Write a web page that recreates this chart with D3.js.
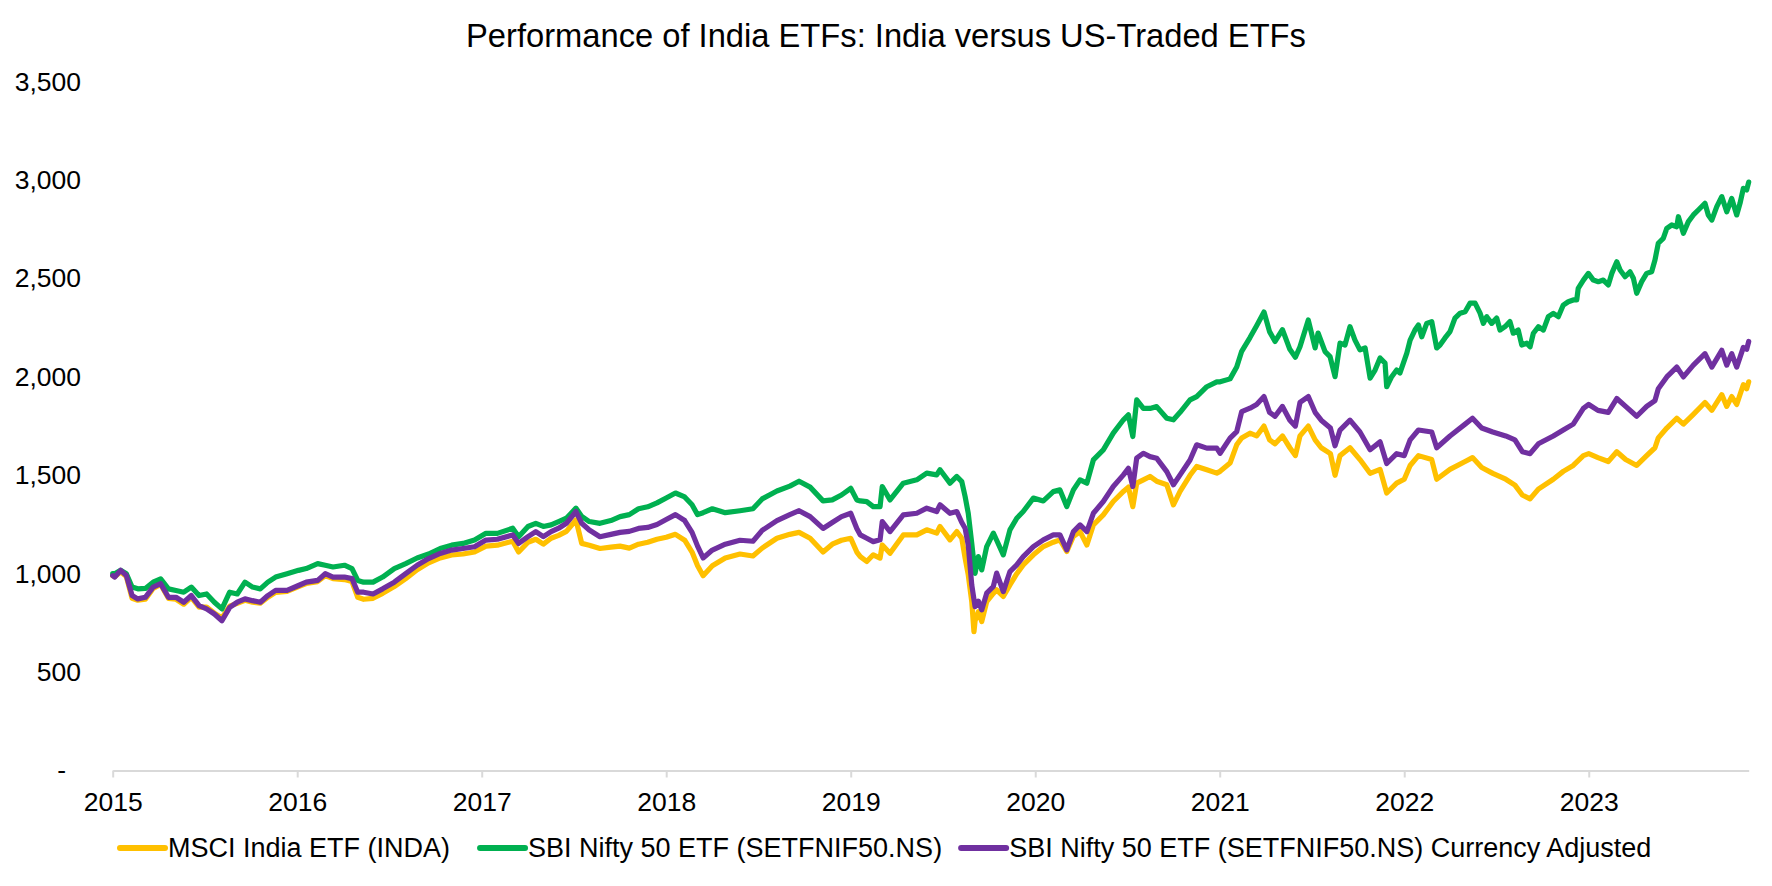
<!DOCTYPE html>
<html>
<head>
<meta charset="utf-8">
<script src="https://cdn.jsdelivr.net/npm/d3@7/dist/d3.min.js"></script>
<style>
  body { margin: 0; background: #ffffff; }
  svg { display: block; }
  text { font-family: "Liberation Sans", Arial, sans-serif; fill: #000000; }
</style>
</head>
<body>
<svg id="chart" width="1772" height="886"></svg>
<script>
// ---------------- DATA ----------------
const chartTitle = "Performance of India ETFs: India versus US-Traded ETFs";
const seriesNames = [
  "MSCI India ETF (INDA)",
  "SBI Nifty 50 ETF (SETFNIF50.NS)",
  "SBI Nifty 50 ETF (SETFNIF50.NS) Currency Adjusted"
];
const seriesColors = ["#FFC000", "#00B050", "#7030A0"];
const yTickValues = [0, 500, 1000, 1500, 2000, 2500, 3000, 3500];
const xTickYears = [2015, 2016, 2017, 2018, 2019, 2020, 2021, 2022, 2023];
const xDomainYears = [2015, 2023.867];

// [decimal year, value]
const indaData = [
[2015.000,990],[2015.011,985],[2015.043,1010],[2015.074,985],[2015.105,875],[2015.136,865],[2015.177,870],
[2015.219,925],[2015.260,945],[2015.302,875],[2015.343,870],[2015.385,845],[2015.426,880],[2015.468,830],
[2015.509,830],[2015.551,800],[2015.592,775],[2015.634,835],[2015.675,850],[2015.717,865],[2015.758,855],
[2015.800,850],[2015.841,880],[2015.883,905],[2015.945,910],[2016.007,935],[2016.049,950],[2016.111,960],
[2016.152,990],[2016.194,975],[2016.256,970],[2016.297,960],[2016.328,880],[2016.360,870],[2016.411,875],
[2016.463,900],[2016.526,935],[2016.588,975],[2016.650,1020],[2016.712,1055],[2016.775,1080],[2016.837,1095],
[2016.899,1100],[2016.961,1110],[2017.023,1140],[2017.085,1145],[2017.168,1165],[2017.200,1110],[2017.251,1160],
[2017.293,1175],[2017.334,1150],[2017.376,1180],[2017.417,1195],[2017.459,1215],[2017.511,1273],[2017.542,1154],
[2017.583,1145],[2017.641,1128],[2017.700,1135],[2017.750,1140],[2017.800,1130],[2017.850,1150],[2017.900,1160],
[2017.950,1175],[2018.000,1185],[2018.050,1200],[2018.100,1170],[2018.140,1110],[2018.170,1040],[2018.200,990],
[2018.250,1040],[2018.320,1080],[2018.400,1100],[2018.470,1090],[2018.520,1130],[2018.600,1180],[2018.670,1200],
[2018.720,1210],[2018.780,1180],[2018.850,1110],[2018.900,1150],[2018.950,1170],[2019.000,1180],[2019.033,1110],
[2019.052,1087],[2019.087,1062],[2019.122,1096],[2019.159,1079],[2019.171,1146],[2019.213,1104],[2019.285,1197],
[2019.358,1197],[2019.412,1223],[2019.466,1206],[2019.484,1240],[2019.538,1172],[2019.575,1214],[2019.602,1180],
[2019.620,1079],[2019.637,994],[2019.656,858],[2019.668,705],[2019.674,760],[2019.692,807],[2019.710,757],
[2019.737,858],[2019.773,900],[2019.791,918],[2019.827,884],[2019.863,943],[2019.900,1000],[2019.935,1045],
[2019.990,1096],[2020.044,1138],[2020.098,1160],[2020.134,1172],[2020.171,1113],[2020.207,1190],[2020.243,1214],
[2020.280,1146],[2020.315,1248],[2020.369,1299],[2020.423,1367],[2020.478,1418],[2020.505,1440],[2020.529,1341],
[2020.550,1460],[2020.586,1477],[2020.622,1494],[2020.658,1470],[2020.713,1452],[2020.749,1350],[2020.785,1418],
[2020.839,1500],[2020.875,1545],[2020.930,1528],[2020.984,1511],[2021.002,1520],[2021.056,1562],[2021.092,1655],
[2021.119,1690],[2021.164,1714],[2021.200,1700],[2021.240,1750],[2021.270,1680],[2021.300,1660],[2021.340,1700],
[2021.380,1640],[2021.410,1600],[2021.435,1700],[2021.480,1750],[2021.517,1680],[2021.550,1640],[2021.600,1610],
[2021.625,1500],[2021.652,1600],[2021.706,1640],[2021.760,1580],[2021.815,1510],[2021.869,1530],[2021.905,1410],
[2021.959,1460],[2022.000,1480],[2022.032,1550],[2022.077,1600],[2022.149,1580],[2022.176,1480],[2022.248,1530],
[2022.330,1570],[2022.370,1590],[2022.420,1540],[2022.480,1510],[2022.550,1480],[2022.600,1450],[2022.640,1400],
[2022.682,1380],[2022.727,1430],[2022.808,1480],[2022.862,1520],[2022.916,1550],[2022.971,1600],[2023.000,1610],
[2023.050,1590],[2023.106,1570],[2023.152,1620],[2023.200,1580],[2023.260,1550],[2023.314,1600],[2023.359,1640],
[2023.377,1690],[2023.423,1740],[2023.477,1790],[2023.513,1760],[2023.567,1810],[2023.630,1870],[2023.667,1830],
[2023.721,1910],[2023.748,1850],[2023.775,1900],[2023.802,1860],[2023.838,1960],[2023.856,1940],[2023.867,1975]
];

const sbiData = [
[2015.000,1000],[2015.011,1000],[2015.043,1017],[2015.074,1000],[2015.105,932],[2015.136,923],[2015.177,925],
[2015.219,957],[2015.260,974],[2015.302,923],[2015.343,915],[2015.385,906],[2015.426,932],[2015.468,889],
[2015.509,897],[2015.551,855],[2015.592,821],[2015.634,906],[2015.675,897],[2015.717,957],[2015.758,932],
[2015.800,923],[2015.841,957],[2015.883,983],[2015.945,1000],[2016.007,1017],[2016.049,1026],[2016.111,1051],
[2016.152,1043],[2016.194,1034],[2016.256,1043],[2016.297,1026],[2016.328,966],[2016.360,957],[2016.411,957],
[2016.463,983],[2016.526,1026],[2016.588,1051],[2016.650,1080],[2016.712,1100],[2016.775,1128],[2016.837,1145],
[2016.899,1154],[2016.961,1171],[2017.023,1205],[2017.085,1205],[2017.168,1231],[2017.200,1188],[2017.251,1240],
[2017.293,1256],[2017.334,1240],[2017.376,1248],[2017.417,1265],[2017.459,1282],[2017.511,1333],[2017.542,1291],
[2017.583,1265],[2017.641,1256],[2017.700,1270],[2017.750,1290],[2017.800,1300],[2017.850,1330],[2017.900,1340],
[2017.950,1360],[2018.000,1385],[2018.050,1410],[2018.100,1390],[2018.140,1350],[2018.170,1300],[2018.200,1310],
[2018.250,1330],[2018.320,1310],[2018.400,1320],[2018.470,1330],[2018.520,1380],[2018.600,1420],[2018.670,1445],
[2018.720,1470],[2018.780,1440],[2018.850,1370],[2018.900,1375],[2018.950,1400],[2019.000,1434],[2019.033,1375],
[2019.052,1370],[2019.087,1366],[2019.122,1341],[2019.159,1341],[2019.171,1443],[2019.213,1375],[2019.285,1460],
[2019.358,1477],[2019.412,1511],[2019.466,1502],[2019.484,1528],[2019.538,1460],[2019.575,1494],[2019.602,1468],
[2019.620,1392],[2019.637,1307],[2019.656,1155],[2019.668,1050],[2019.674,1002],[2019.692,1087],[2019.710,1019],
[2019.737,1138],[2019.773,1206],[2019.791,1170],[2019.827,1096],[2019.863,1223],[2019.900,1282],[2019.935,1316],
[2019.990,1384],[2020.044,1370],[2020.098,1417],[2020.134,1426],[2020.171,1341],[2020.207,1426],[2020.243,1477],
[2020.280,1460],[2020.315,1578],[2020.369,1629],[2020.423,1714],[2020.478,1782],[2020.505,1807],[2020.529,1697],
[2020.550,1883],[2020.586,1840],[2020.622,1840],[2020.658,1849],[2020.713,1790],[2020.749,1782],[2020.785,1820],
[2020.839,1883],[2020.875,1900],[2020.930,1950],[2020.984,1975],[2021.002,1975],[2021.056,1990],[2021.092,2050],
[2021.119,2130],[2021.164,2200],[2021.200,2260],[2021.240,2330],[2021.270,2230],[2021.300,2180],[2021.340,2240],
[2021.380,2140],[2021.410,2100],[2021.435,2153],[2021.480,2289],[2021.517,2147],[2021.533,2223],[2021.571,2128],
[2021.598,2103],[2021.625,2001],[2021.652,2172],[2021.679,2162],[2021.706,2255],[2021.733,2187],[2021.760,2137],
[2021.788,2147],[2021.815,1994],[2021.842,2035],[2021.869,2096],[2021.896,2070],[2021.905,1950],[2021.932,2001],
[2021.959,2035],[2021.977,2020],[2022.014,2121],[2022.032,2187],[2022.058,2238],[2022.077,2264],[2022.095,2204],
[2022.122,2272],[2022.149,2281],[2022.176,2147],[2022.194,2162],[2022.221,2198],[2022.248,2230],[2022.275,2299],
[2022.303,2324],[2022.330,2331],[2022.357,2375],[2022.384,2375],[2022.411,2324],[2022.429,2272],[2022.447,2306],
[2022.474,2272],[2022.501,2299],[2022.519,2238],[2022.546,2255],[2022.573,2281],[2022.591,2222],[2022.618,2238],
[2022.637,2162],[2022.664,2171],[2022.682,2153],[2022.700,2222],[2022.727,2255],[2022.754,2238],[2022.781,2306],
[2022.808,2323],[2022.835,2306],[2022.862,2365],[2022.889,2382],[2022.916,2391],[2022.935,2391],[2022.943,2450],
[2022.971,2492],[2022.998,2526],[2023.025,2492],[2023.052,2484],[2023.079,2492],[2023.106,2467],[2023.125,2526],
[2023.152,2585],[2023.170,2543],[2023.197,2509],[2023.224,2534],[2023.242,2501],[2023.260,2425],[2023.287,2484],
[2023.314,2526],[2023.341,2534],[2023.359,2594],[2023.377,2679],[2023.404,2704],[2023.423,2755],[2023.450,2772],
[2023.477,2763],[2023.486,2814],[2023.513,2730],[2023.540,2789],[2023.567,2823],[2023.594,2848],[2023.630,2882],
[2023.648,2823],[2023.667,2797],[2023.694,2865],[2023.721,2916],[2023.748,2839],[2023.775,2907],[2023.802,2823],
[2023.820,2882],[2023.838,2958],[2023.856,2950],[2023.867,2990]
];

const sbiUsdData = [
[2015.000,990],[2015.011,983],[2015.043,1017],[2015.074,991],[2015.105,889],[2015.136,872],[2015.177,880],
[2015.219,932],[2015.260,949],[2015.302,880],[2015.343,880],[2015.385,855],[2015.426,889],[2015.468,838],
[2015.509,821],[2015.551,795],[2015.592,761],[2015.634,829],[2015.675,855],[2015.717,872],[2015.758,863],
[2015.800,855],[2015.841,889],[2015.883,915],[2015.945,915],[2016.007,940],[2016.049,957],[2016.111,966],
[2016.152,1000],[2016.194,983],[2016.256,983],[2016.297,975],[2016.328,906],[2016.360,906],[2016.411,897],
[2016.463,923],[2016.526,957],[2016.588,1000],[2016.650,1043],[2016.712,1077],[2016.775,1103],[2016.837,1120],
[2016.899,1128],[2016.961,1137],[2017.023,1171],[2017.085,1175],[2017.168,1197],[2017.200,1154],[2017.251,1188],
[2017.293,1214],[2017.334,1188],[2017.376,1214],[2017.417,1231],[2017.459,1256],[2017.511,1316],[2017.542,1256],
[2017.583,1222],[2017.641,1188],[2017.700,1200],[2017.750,1210],[2017.800,1215],[2017.850,1230],[2017.900,1235],
[2017.950,1250],[2018.000,1275],[2018.050,1300],[2018.100,1270],[2018.140,1210],[2018.170,1140],[2018.200,1080],
[2018.250,1120],[2018.320,1150],[2018.400,1170],[2018.470,1165],[2018.520,1220],[2018.600,1270],[2018.670,1300],
[2018.720,1320],[2018.780,1290],[2018.850,1230],[2018.900,1260],[2018.950,1290],[2019.000,1307],[2019.033,1230],
[2019.052,1197],[2019.087,1180],[2019.122,1163],[2019.159,1172],[2019.171,1265],[2019.213,1214],[2019.285,1299],
[2019.358,1307],[2019.412,1333],[2019.466,1316],[2019.484,1350],[2019.538,1307],[2019.575,1316],[2019.602,1260],
[2019.620,1231],[2019.637,1146],[2019.656,943],[2019.668,870],[2019.674,833],[2019.692,860],[2019.710,816],
[2019.737,901],[2019.773,935],[2019.791,1003],[2019.827,909],[2019.863,1011],[2019.900,1045],[2019.935,1087],
[2019.990,1138],[2020.044,1172],[2020.098,1197],[2020.134,1197],[2020.171,1121],[2020.207,1214],[2020.243,1248],
[2020.280,1214],[2020.315,1307],[2020.369,1367],[2020.423,1443],[2020.478,1502],[2020.505,1536],[2020.529,1443],
[2020.550,1587],[2020.586,1612],[2020.622,1595],[2020.658,1587],[2020.713,1519],[2020.749,1452],[2020.785,1502],
[2020.839,1578],[2020.875,1655],[2020.930,1638],[2020.984,1638],[2021.002,1612],[2021.056,1689],[2021.092,1722],
[2021.119,1824],[2021.164,1841],[2021.200,1860],[2021.240,1900],[2021.270,1820],[2021.300,1800],[2021.340,1850],
[2021.380,1780],[2021.410,1750],[2021.435,1870],[2021.480,1900],[2021.517,1820],[2021.550,1780],[2021.600,1740],
[2021.625,1650],[2021.652,1730],[2021.706,1780],[2021.760,1720],[2021.815,1630],[2021.869,1670],[2021.905,1560],
[2021.959,1610],[2022.000,1600],[2022.032,1680],[2022.077,1730],[2022.149,1720],[2022.176,1640],[2022.248,1700],
[2022.330,1760],[2022.370,1790],[2022.420,1740],[2022.480,1720],[2022.550,1700],[2022.600,1680],[2022.640,1620],
[2022.682,1610],[2022.727,1660],[2022.808,1700],[2022.862,1730],[2022.916,1760],[2022.971,1840],[2023.000,1860],
[2023.050,1830],[2023.106,1820],[2023.152,1890],[2023.200,1850],[2023.260,1800],[2023.314,1850],[2023.359,1880],
[2023.377,1940],[2023.423,2000],[2023.477,2050],[2023.513,2000],[2023.567,2060],[2023.630,2118],[2023.667,2050],
[2023.721,2135],[2023.748,2060],[2023.775,2118],[2023.802,2050],[2023.838,2150],[2023.856,2140],[2023.867,2180]
];

const allSeries = [indaData, sbiData, sbiUsdData];

// ---------------- LAYOUT ----------------
const W = 1772, H = 886;
const plot = { left: 112.7, right: 1748.7, top: 81.7, bottom: 770.5 };

const svg = d3.select("#chart");

const x = d3.scaleLinear().domain(xDomainYears).range([plot.left, plot.right]);
const y = d3.scaleLinear().domain([0, 3500]).range([plot.bottom, plot.top]);

// Title
svg.append("text")
  .attr("x", W / 2)
  .attr("y", 47)
  .attr("text-anchor", "middle")
  .style("font-size", "32.7px")
  .text(chartTitle);

// Y axis (labels only)
const fmt = d3.format(",");
const yAxis = svg.append("g")
  .attr("transform", `translate(${plot.left},0)`)
  .call(d3.axisLeft(y).tickValues(yTickValues).tickSize(0).tickPadding(31.7)
    .tickFormat(d => d === 0 ? "-" : fmt(d)));
yAxis.select(".domain").remove();
yAxis.selectAll("text")
  .style("font-size", "26.5px")
  .style("font-family", '"Liberation Sans", Arial, sans-serif')
  .attr("fill", "#000")
  .attr("dx", d => d === 0 ? -15 : 0);

// X axis
const xAxis = svg.append("g")
  .attr("transform", `translate(0,${plot.bottom})`)
  .call(d3.axisBottom(x).tickValues(xTickYears).tickFormat(d3.format("d"))
    .tickSize(7).tickSizeOuter(0).tickPadding(15));
xAxis.select(".domain").attr("stroke", "#d9d9d9").attr("stroke-width", 2);
xAxis.selectAll(".tick line").attr("stroke", "#d9d9d9").attr("stroke-width", 2);
xAxis.selectAll("text")
  .style("font-size", "26.5px")
  .style("font-family", '"Liberation Sans", Arial, sans-serif')
  .attr("fill", "#000");

// Lines
const line = d3.line().x(d => x(d[0])).y(d => y(d[1]));
svg.append("g").selectAll("path")
  .data(allSeries)
  .join("path")
  .attr("d", line)
  .attr("fill", "none")
  .attr("stroke", (d, i) => seriesColors[i])
  .attr("stroke-width", 5.2)
  .attr("stroke-linejoin", "round")
  .attr("stroke-linecap", "round");

// Legend
const legendY = 848;
const lineLen = 45, textGap = 3;
const itemGaps = [30, 19];
const legendStart = 120;
const legend = svg.append("g");
const items = legend.selectAll("g").data(seriesNames).join("g");
items.append("line")
  .attr("x1", 0).attr("x2", lineLen)
  .attr("y1", 0).attr("y2", 0)
  .attr("stroke", (d, i) => seriesColors[i])
  .attr("stroke-width", 6)
  .attr("stroke-linecap", "round");
items.append("text")
  .attr("x", lineLen + textGap)
  .attr("y", 0)
  .attr("dy", "0.35em")
  .style("font-size", "27px")
  .text(d => d);
const widths = [];
items.each(function () { widths.push(this.getBBox().width); });
let cx = legendStart;
items.attr("transform", (d, i) => {
  const t = `translate(${cx},${legendY})`;
  cx += widths[i] + (itemGaps[i] || 0);
  return t;
});
</script>
</body>
</html>
